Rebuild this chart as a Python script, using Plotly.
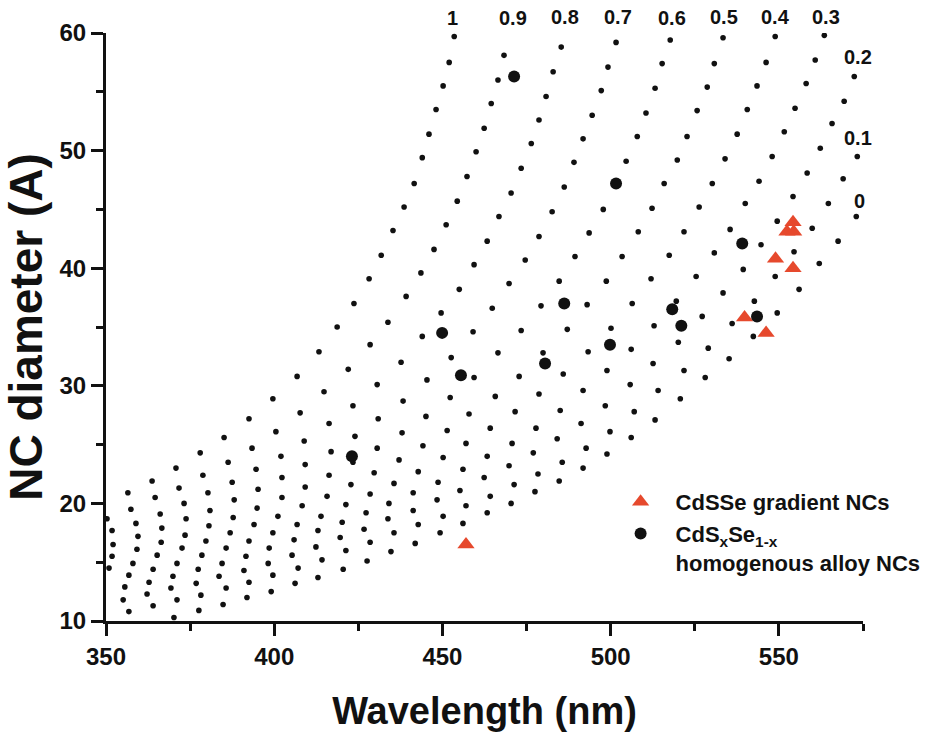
import plotly.graph_objects as go

# Calculated size/wavelength curves for CdS(x)Se(1-x), one list pair per S fraction x
wl_x10 = [356.5, 363.7, 370.8, 378.0, 385.1, 392.5, 399.6, 406.8, 413.3, 418.7, 423.7,
          428.2, 431.8, 435.3, 438.6, 441.6, 444.0, 446.0, 448.1, 450.2, 452.0, 453.5]
d_x10 = [20.9, 21.9, 23.0, 24.3, 25.6, 27.2, 28.9, 30.8, 32.9, 35.0, 37.0,
         39.1, 41.1, 43.2, 45.2, 47.2, 49.4, 51.4, 53.5, 55.5, 57.5, 59.7]

wl_x09 = [350.3, 357.4, 364.6, 371.7, 378.8, 386.3, 393.4, 400.5, 407.7, 414.8, 422.0, 428.5,
          433.8, 439.2, 443.6, 447.5, 451.1, 454.4, 457.3, 460.0, 462.4, 464.5, 466.5, 468.3]
d_x09 = [18.7, 19.5, 20.5, 21.3, 22.4, 23.5, 24.7, 26.1, 27.7, 29.5, 31.4, 33.5,
         35.4, 37.6, 39.6, 41.6, 43.7, 45.7, 47.8, 49.9, 51.9, 54.0, 56.0, 58.1]

wl_x08 = [351.8, 358.9, 366.1, 373.2, 380.3, 387.5, 394.6, 402.0, 408.9, 416.3, 423.4, 430.6, 437.7,
          444.0, 449.6, 455.0, 459.4, 463.3, 466.8, 470.4, 473.4, 476.4, 478.7, 480.8, 482.9, 485.3]
d_x08 = [17.7, 18.3, 19.1, 20.0, 20.9, 21.8, 22.9, 24.0, 25.3, 26.8, 28.3, 30.1, 32.0,
         34.2, 36.2, 38.2, 40.3, 42.3, 44.4, 46.4, 48.5, 50.6, 52.6, 54.6, 56.7, 58.8]

wl_x07 = [352.1, 359.5, 366.6, 373.8, 380.9, 388.1, 395.2, 402.3, 409.2, 416.9, 424.0, 430.9, 438.3, 445.4,
          452.6, 459.1, 464.8, 469.8, 474.6, 478.7, 482.6, 486.2, 489.1, 491.8, 494.5, 497.2, 499.2, 501.6]
d_x07 = [16.5, 17.2, 17.9, 18.7, 19.4, 20.3, 21.2, 22.2, 23.3, 24.4, 25.7, 27.2, 28.7, 30.5,
         32.4, 34.6, 36.6, 38.7, 40.7, 42.7, 44.8, 46.9, 49.0, 51.0, 53.0, 55.1, 57.1, 59.2]

wl_x06 = [351.8, 359.2, 366.4, 373.5, 380.6, 387.8, 394.9, 402.3, 409.2, 416.3, 423.4, 430.6, 438.0, 445.1, 452.3,
          459.4, 466.5, 473.4, 479.3, 484.7, 489.4, 493.6, 497.8, 501.6, 504.6, 507.9, 510.5, 513.2, 515.3, 517.7]
d_x06 = [15.5, 16.1, 16.7, 17.3, 18.1, 18.8, 19.6, 20.5, 21.4, 22.4, 23.5, 24.7, 26.0, 27.4, 29.0,
         30.7, 32.8, 34.7, 36.8, 38.9, 41.0, 43.0, 45.0, 47.2, 49.1, 51.2, 53.2, 55.3, 57.4, 59.4]

wl_x05 = [350.9, 358.0, 365.2, 372.6, 379.7, 386.9, 394.0, 401.1, 408.3, 415.7, 422.8, 429.7, 437.1, 444.2, 451.4, 457.9,
          465.7, 472.8, 479.9, 487.1, 493.0, 498.7, 503.4, 508.2, 512.3, 515.9, 519.8, 522.7, 525.7, 528.7, 530.8, 533.4]
d_x05 = [14.5, 14.9, 15.6, 16.2, 16.8, 17.5, 18.2, 18.9, 19.8, 20.6, 21.6, 22.6, 23.7, 24.9, 26.2, 27.6,
         29.1, 30.8, 32.8, 34.8, 36.9, 38.9, 41.0, 43.1, 45.1, 47.2, 49.2, 51.2, 53.4, 55.4, 57.4, 59.6]

wl_x04 = [356.8, 364.0, 371.1, 378.5, 385.7, 392.5, 399.6, 406.8, 413.9, 421.3, 428.5, 435.6, 442.8, 450.2, 457.0, 464.2,
          471.6, 478.7, 485.9, 493.3, 500.1, 506.4, 512.0, 517.4, 521.8, 526.3, 530.2, 534.0, 537.6, 540.6, 543.5, 546.2, 548.9]
d_x04 = [13.9, 14.4, 14.9, 15.6, 16.2, 16.8, 17.5, 18.2, 18.9, 19.9, 20.8, 21.7, 22.7, 23.9, 25.1, 26.4,
         27.8, 29.3, 31.0, 32.9, 34.9, 37.0, 39.1, 41.1, 43.1, 45.2, 47.2, 49.3, 51.4, 53.5, 55.5, 57.5, 59.7]

wl_x03 = [355.6, 362.8, 369.9, 377.4, 384.5, 391.6, 398.5, 405.9, 413.0, 420.2, 427.3, 434.1, 441.3, 448.7, 456.1, 463.3, 470.7, 477.8,
          485.0, 491.8, 498.9, 506.1, 512.9, 519.5, 525.4, 530.8, 535.5, 540.0, 544.1, 548.0, 551.6, 554.8, 558.1, 560.8, 563.5]
d_x03 = [12.9, 13.3, 13.8, 14.4, 14.9, 15.5, 16.2, 16.9, 17.7, 18.4, 19.2, 20.0, 20.9, 21.8, 22.9, 24.0, 25.1, 26.4,
         27.9, 29.6, 31.3, 33.1, 35.1, 37.2, 39.3, 41.3, 43.3, 45.5, 47.4, 49.5, 51.6, 53.6, 55.7, 57.7, 59.8]

wl_x02 = [355.1, 362.2, 369.3, 376.8, 383.6, 391.0, 398.2, 405.3, 412.4, 419.6, 426.7, 433.8, 441.3, 448.4, 455.2, 462.4, 469.8, 477.0,
          484.1, 491.2, 498.4, 505.8, 512.6, 520.1, 527.2, 533.4, 539.4, 544.7, 549.5, 554.2, 558.4, 562.3, 565.8, 569.4, 572.4]
d_x02 = [11.8, 12.3, 12.8, 13.2, 13.8, 14.3, 14.9, 15.6, 16.3, 17.1, 17.8, 18.7, 19.4, 20.3, 21.1, 22.2, 23.2, 24.3,
         25.5, 26.8, 28.3, 30.1, 31.9, 33.7, 35.9, 37.9, 39.9, 42.0, 44.0, 46.1, 48.1, 50.2, 52.3, 54.2, 56.3]

wl_x01 = [356.8, 364.0, 371.1, 378.2, 385.7, 392.5, 399.6, 407.1, 414.2, 421.3, 428.5, 435.6, 442.8, 450.2, 457.0, 464.2, 471.3,
          478.4, 485.6, 492.7, 499.8, 507.0, 514.1, 521.8, 529.0, 536.1, 542.7, 548.9, 554.5, 559.9, 564.7, 569.1, 573.3]
d_x01 = [10.8, 11.3, 11.8, 12.2, 12.8, 13.3, 13.9, 14.5, 15.2, 16.0, 16.7, 17.5, 18.2, 18.9, 19.8, 20.6, 21.6,
         22.5, 23.5, 24.7, 26.1, 27.8, 29.6, 31.3, 33.2, 35.3, 37.2, 39.3, 41.4, 43.4, 45.5, 47.6, 49.5]

wl_x00 = [370.2, 377.6, 384.8, 391.9, 399.1, 406.2, 413.0, 420.5, 427.6, 434.7, 441.9, 449.3, 456.1, 463.3, 470.4,
          477.5, 484.7, 491.8, 498.9, 506.1, 513.2, 520.7, 528.1, 535.2, 542.4, 549.5, 556.0, 562.0, 567.6, 573.0]
d_x00 = [10.3, 10.9, 11.4, 12.0, 12.5, 13.2, 13.7, 14.4, 15.1, 15.9, 16.6, 17.5, 18.3, 19.2, 20.0,
         21.0, 21.9, 23.0, 24.2, 25.6, 27.1, 28.9, 30.7, 32.3, 34.2, 36.2, 38.2, 40.4, 42.3, 44.4]

# Curve labels (S fraction) and where each label sits
comp_labels = ["1", "0.9", "0.8", "0.7", "0.6", "0.5", "0.4", "0.3", "0.2", "0.1", "0"]
label_wl = [453.0, 471.1, 486.3, 502.1, 518.2, 533.6, 549.1, 564.0, 573.5, 573.5, 574.1]
label_d = [61.3, 61.3, 61.4, 61.4, 61.3, 61.4, 61.4, 61.4, 58.0, 51.1, 45.7]

# Measured samples
gradient_wl = [457.0, 539.8, 546.2, 549.0, 554.2, 554.2, 552.4, 554.4]
gradient_d = [16.5, 35.8, 34.5, 40.8, 40.0, 43.9, 43.1, 43.1]

alloy_wl = [471.3, 501.6, 539.1, 543.5, 518.3, 521.0, 486.2, 480.5, 499.8, 455.5, 449.9, 423.1]
alloy_d = [56.3, 47.2, 42.1, 35.9, 36.5, 35.1, 37.0, 31.9, 33.5, 30.9, 34.5, 24.0]

FONT = "Liberation Sans, Arial, sans-serif"
RED = "#E6492D"
INK = "#111111"
X_RANGE = [350, 575]
Y_RANGE = [10, 60]

curves = [(wl_x10, d_x10), (wl_x09, d_x09), (wl_x08, d_x08), (wl_x07, d_x07),
          (wl_x06, d_x06), (wl_x05, d_x05), (wl_x04, d_x04), (wl_x03, d_x03),
          (wl_x02, d_x02), (wl_x01, d_x01), (wl_x00, d_x00)]

fig = go.Figure()

for wl, d in curves:
    fig.add_trace(go.Scatter(
        x=wl, y=d, mode="markers", showlegend=False, hoverinfo="skip",
        marker=dict(symbol="circle", size=5.6, color=INK, line=dict(width=0)),
    ))

fig.add_trace(go.Scatter(
    x=gradient_wl, y=gradient_d, mode="markers", name="CdSSe gradient NCs",
    marker=dict(symbol="triangle-up", size=15, color=RED, line=dict(width=0)),
))
fig.add_trace(go.Scatter(
    x=alloy_wl, y=alloy_d, mode="markers",
    name="CdS<sub>x</sub>Se<sub>1-x</sub><br>homogenous alloy NCs",
    marker=dict(symbol="circle", size=12, color=INK, line=dict(width=0)),
))

# Labels may sit above the top of the axis range, so place them in axis-domain units
y_span = Y_RANGE[1] - Y_RANGE[0]
for txt, lx, ly in zip(comp_labels, label_wl, label_d):
    fig.add_annotation(x=lx, y=(ly - Y_RANGE[0]) / y_span, text=txt, showarrow=False,
                       xref="x", yref="y domain", xanchor="center", yanchor="middle",
                       font=dict(family=FONT, size=20, color=INK, weight="bold"))

axis_common = dict(
    showline=True, linewidth=3, linecolor=INK, mirror=False,
    ticks="outside", ticklen=12, tickwidth=3, tickcolor=INK,
    showgrid=False, zeroline=False, automargin=False,
    tickfont=dict(family=FONT, size=24, color=INK, weight="bold"),
)

fig.update_xaxes(
    range=X_RANGE, tick0=350, dtick=50,
    minor=dict(ticks="outside", dtick=25, tick0=350, ticklen=7, tickwidth=3, tickcolor=INK),
    title=dict(text="Wavelength (nm)", font=dict(family=FONT, size=38, color=INK, weight="bold"),
               standoff=30),
    **axis_common,
)
fig.update_yaxes(
    range=Y_RANGE, tick0=10, dtick=10,
    minor=dict(ticks="outside", dtick=5, tick0=10, ticklen=7, tickwidth=3, tickcolor=INK),
    title=dict(text="NC diameter (A)", font=dict(family=FONT, size=46, color=INK, weight="bold"),
               standoff=10),
    **axis_common,
)

fig.update_layout(
    width=949, height=732,
    margin=dict(l=106, r=86, t=33, b=111),
    plot_bgcolor="white", paper_bgcolor="white",
    showlegend=True,
    legend=dict(
        x=0.66, y=0.238, xanchor="left", yanchor="top",
        bgcolor="rgba(0,0,0,0)", borderwidth=0,
        itemwidth=60, valign="top", tracegroupgap=0,
        font=dict(family=FONT, size=22, color=INK, weight="bold"),
    ),
)

fig.write_html("out.html")
